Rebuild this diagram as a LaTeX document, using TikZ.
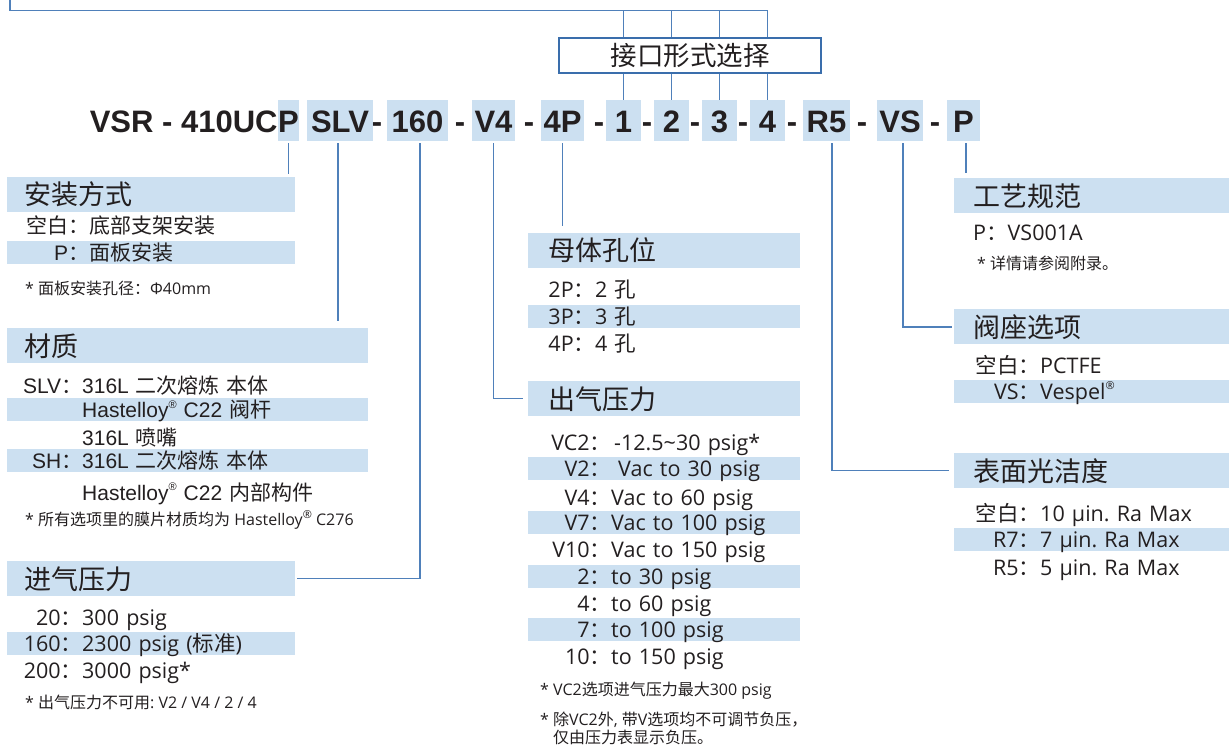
\documentclass[tikz,border=0pt]{standalone}
\usepackage{fontspec}
\setmainfont{Open Sans}
\newfontfamily\cjk{Noto Sans CJK SC}
\newfontfamily\arial{Liberation Sans}
\usepackage{tikz}
\usetikzlibrary{positioning}
\definecolor{band}{HTML}{CCE0F1}
\definecolor{rule}{HTML}{4F80BA}
\definecolor{frame}{HTML}{3A6EAC}
\definecolor{ink}{HTML}{231F20}
\frenchspacing
\newcommand\zh[1]{{\cjk #1}}
\newcommand\kv[3]{\makebox[#1][r]{#2}#3}
\newcommand\reg{\raisebox{0.45em}{\fontsize{11}{11}\selectfont ®}}
\tikzset{
  code/.style={text=ink,font=\arial\fontsize{31}{31}\selectfont\bfseries,text height=24pt,text depth=0pt,inner ysep=8.5pt,inner xsep=0pt},
  cbox/.style={code,fill=band,minimum height=41pt},
  hdr/.style={text=ink,font=\cjk\fontsize{27}{30}\selectfont,text height=27pt,text depth=6pt,inner ysep=1pt,align=left,anchor=west,fill=band},
  row/.style={text=ink,font=\fontsize{21.5}{24}\selectfont,text height=18pt,text depth=2pt,inner ysep=1.5pt,align=left,anchor=west},
  hl/.style={row,fill=band},
  arow/.style={row,font=\arial\fontsize{21}{24}\selectfont},
  ahl/.style={arow,fill=band},
  note/.style={text=ink,font=\fontsize{16}{18}\selectfont,inner sep=0pt,anchor=west,align=left},
  secA/.style={inner xsep=17pt,text width=254pt},
  secB/.style={inner xsep=17pt,text width=327pt},
  secM/.style={inner xsep=20pt,text width=232pt},
  secR/.style={inner xsep=19pt,text width=237pt},
  link/.style={draw=rule,line width=1.4pt},
}
\begin{document}
\begin{tikzpicture}[x=1pt,y=-1pt]
\useasboundingbox (0,0) rectangle (1229,751);

% part number
\foreach \n/\x/\w/\t in {p/288.5/21/P,slv/340/66/SLV,b160/417.5/61/160,v4/493.5/43/V4,p4/562.5/43/4P,
  c1/623.5/35/1,c2/671.5/35/2,c3/719.5/35/3,c4/767.5/35/4,r5/826.5/47/R5,vs/900/46/VS,pp/963.5/33/P}
  \node[cbox,minimum width=\w pt] (\n) at (\x,120.5) {\t};
\node[code,left=0pt of p] (vsr) {VSR - 410UC};
\foreach \x [count=\i] in {377,460,529,599,647,695,743,792,862,935}
  \node[code] (dash\i) at (\x,120.5) {-};

% port selection
\node[draw=frame,line width=2.3pt,minimum width=262pt,minimum height=35pt,inner sep=0pt,
  text=ink,font=\cjk\fontsize{26.5}{28}\selectfont] (pick) at (690,55.5) {接口形式选择};
\coordinate (lead) at (10,0);
\coordinate (bus) at (0,10.5);
\draw[link] (lead) |- (c4.north |- bus);
\foreach \n in {c1,c2,c3,c4} {
  \draw[link] (\n.north) -- (\n.north |- pick.south);
  \draw[link] (\n.north |- pick.north) -- (\n.north |- bus);
}

% mounting
\node[hdr,secA] (mount) at (7,194.5) {安装方式};
\node[arow,secA] (mount1) at (7,226) {\kv{65pt}{\zh{空白：}}{\zh{底部支架安装}}};
\node[ahl,secA] (mount2) at (7,252.5) {\kv{65pt}{P\zh{：}}{\zh{面板安装}}};
\node[note] (mountn) at (25,288) {* \zh{面板安装孔径：}Φ40mm};

% material
\node[hdr,secB] (matl) at (7,345.5) {材质};
\node[arow,secB] (matl1) at (7,385) {\kv{58pt}{SLV\zh{：}}{316L \zh{二次熔炼 本体}}};
\node[ahl,secB] (matl2) at (7,409.5) {\kv{58pt}{}{Hastelloy\reg{} C22 \zh{阀杆}}};
\node[arow,secB] (matl3) at (7,437) {\kv{58pt}{}{316L \zh{喷嘴}}};
\node[ahl,secB] (matl4) at (7,460.5) {\kv{58pt}{SH\zh{：}}{316L \zh{二次熔炼 本体}}};
\node[arow,secB] (matl5) at (7,492) {\kv{58pt}{}{Hastelloy\reg{} C22 \zh{内部构件}}};
\node[note] (matln) at (25,520) {* \zh{所有选项里的膜片材质均为} Hastelloy\reg{} C276};

% inlet pressure
\node[hdr,secA] (inlet) at (7,578.5) {进气压力};
\node[row,secA] (inlet1) at (7,617) {\kv{58pt}{20\zh{：}}{300 psig}};
\node[hl,secA] (inlet2) at (7,643.5) {\kv{58pt}{160\zh{：}}{2300 psig (\zh{标准})}};
\node[row,secA] (inlet3) at (7,670) {\kv{58pt}{200\zh{：}}{3000 psig*}};
\node[note] (inletn) at (25,702) {* \zh{出气压力不可用}: V2 / V4 / 2 / 4};

% body ports
\node[hdr,secM] (ports) at (528,250.5) {母体孔位};
\node[row,secM] (ports1) at (528,290) {\kv{47pt}{2P\zh{：}}{2 \zh{孔}}};
\node[hl,secM] (ports2) at (528,316.5) {\kv{47pt}{3P\zh{：}}{3 \zh{孔}}};
\node[row,secM] (ports3) at (528,344) {\kv{47pt}{4P\zh{：}}{4 \zh{孔}}};

% outlet pressure
\node[hdr,secM] (outlet) at (528,398.5) {出气压力};
\node[row,secM] (out1) at (528,442) {\kv{63pt}{VC2\zh{：}}{\hspace{3pt}-12.5\textasciitilde30 psig*}};
\node[hl,secM] (out2) at (528,468) {\kv{63pt}{V2\zh{：}}{\hspace{7pt}Vac to 30 psig}};
\node[row,secM] (out3) at (528,497) {\kv{63pt}{V4\zh{：}}{Vac to 60 psig}};
\node[hl,secM] (out4) at (528,522.5) {\kv{63pt}{V7\zh{：}}{Vac to 100 psig}};
\node[row,secM] (out5) at (528,549) {\kv{63pt}{V10\zh{：}}{Vac to 150 psig}};
\node[hl,secM] (out6) at (528,576.5) {\kv{63pt}{2\zh{：}}{to 30 psig}};
\node[row,secM] (out7) at (528,603) {\kv{63pt}{4\zh{：}}{to 60 psig}};
\node[hl,secM] (out8) at (528,629.5) {\kv{63pt}{7\zh{：}}{to 100 psig}};
\node[row,secM] (out9) at (528,656) {\kv{63pt}{10\zh{：}}{to 150 psig}};
\node[note] (outn1) at (540,691) {* VC2\zh{选项进气压力最大}300 psig};
\node[note] (outn2) at (540,728) {* \zh{除}VC2\zh{外}, \zh{带}V\zh{选项均不可调节负压，}\\\hspace*{13pt}\zh{仅由压力表显示负压。}};

% process spec
\node[hdr,secR] (spec) at (954,196) {工艺规范};
\node[row,secR] (spec1) at (954,233) {P\zh{：}VS001A};
\node[note] (specn) at (977,263) {* \zh{详情请参阅附录。}};

% seat
\node[hdr,secR] (seat) at (954,327) {阀座选项};
\node[row,secR] (seat1) at (954,365) {\kv{67pt}{\zh{空白：}}{PCTFE}};
\node[hl,secR] (seat2) at (954,391) {\kv{67pt}{VS\zh{：}}{Vespel\reg}};

% surface finish
\node[hdr,secR] (finish) at (954,470.5) {表面光洁度};
\node[row,secR] (fin1) at (954,513) {\kv{67pt}{\zh{空白：}}{10 µin. Ra Max}};
\node[hl,secR] (fin2) at (954,539.5) {\kv{67pt}{R7\zh{：}}{7 µin. Ra Max}};
\node[row,secR] (fin3) at (954,567) {\kv{67pt}{R5\zh{：}}{5 µin. Ra Max}};

% leaders
\draw[link,shorten <=2pt,shorten >=3pt] (p.south) -- (p.south |- mount.north);
\draw[link,shorten <=2pt,shorten >=7pt] ([xshift=-2pt]slv.south) -- ([xshift=-2pt]slv.south |- matl.north);
\draw[link,shorten <=2pt,shorten >=2pt] ([xshift=2.5pt]b160.south) |- (inlet.east);
\draw[link,shorten <=2pt,shorten >=5pt] (v4.south) |- (outlet.west);
\draw[link,shorten <=2pt,shorten >=7pt] (p4.south) -- (p4.south |- ports.north);
\draw[link,shorten <=2pt,shorten >=5pt] ([xshift=5.5pt]r5.south) |- (finish.west);
\draw[link,shorten <=2pt,shorten >=2pt] ([xshift=3pt]vs.south) |- (seat.west);
\draw[link,shorten <=2pt,shorten >=5pt] ([xshift=2.5pt]pp.south) -- ([xshift=2.5pt]pp.south |- spec.north);
\end{tikzpicture}
\end{document}
